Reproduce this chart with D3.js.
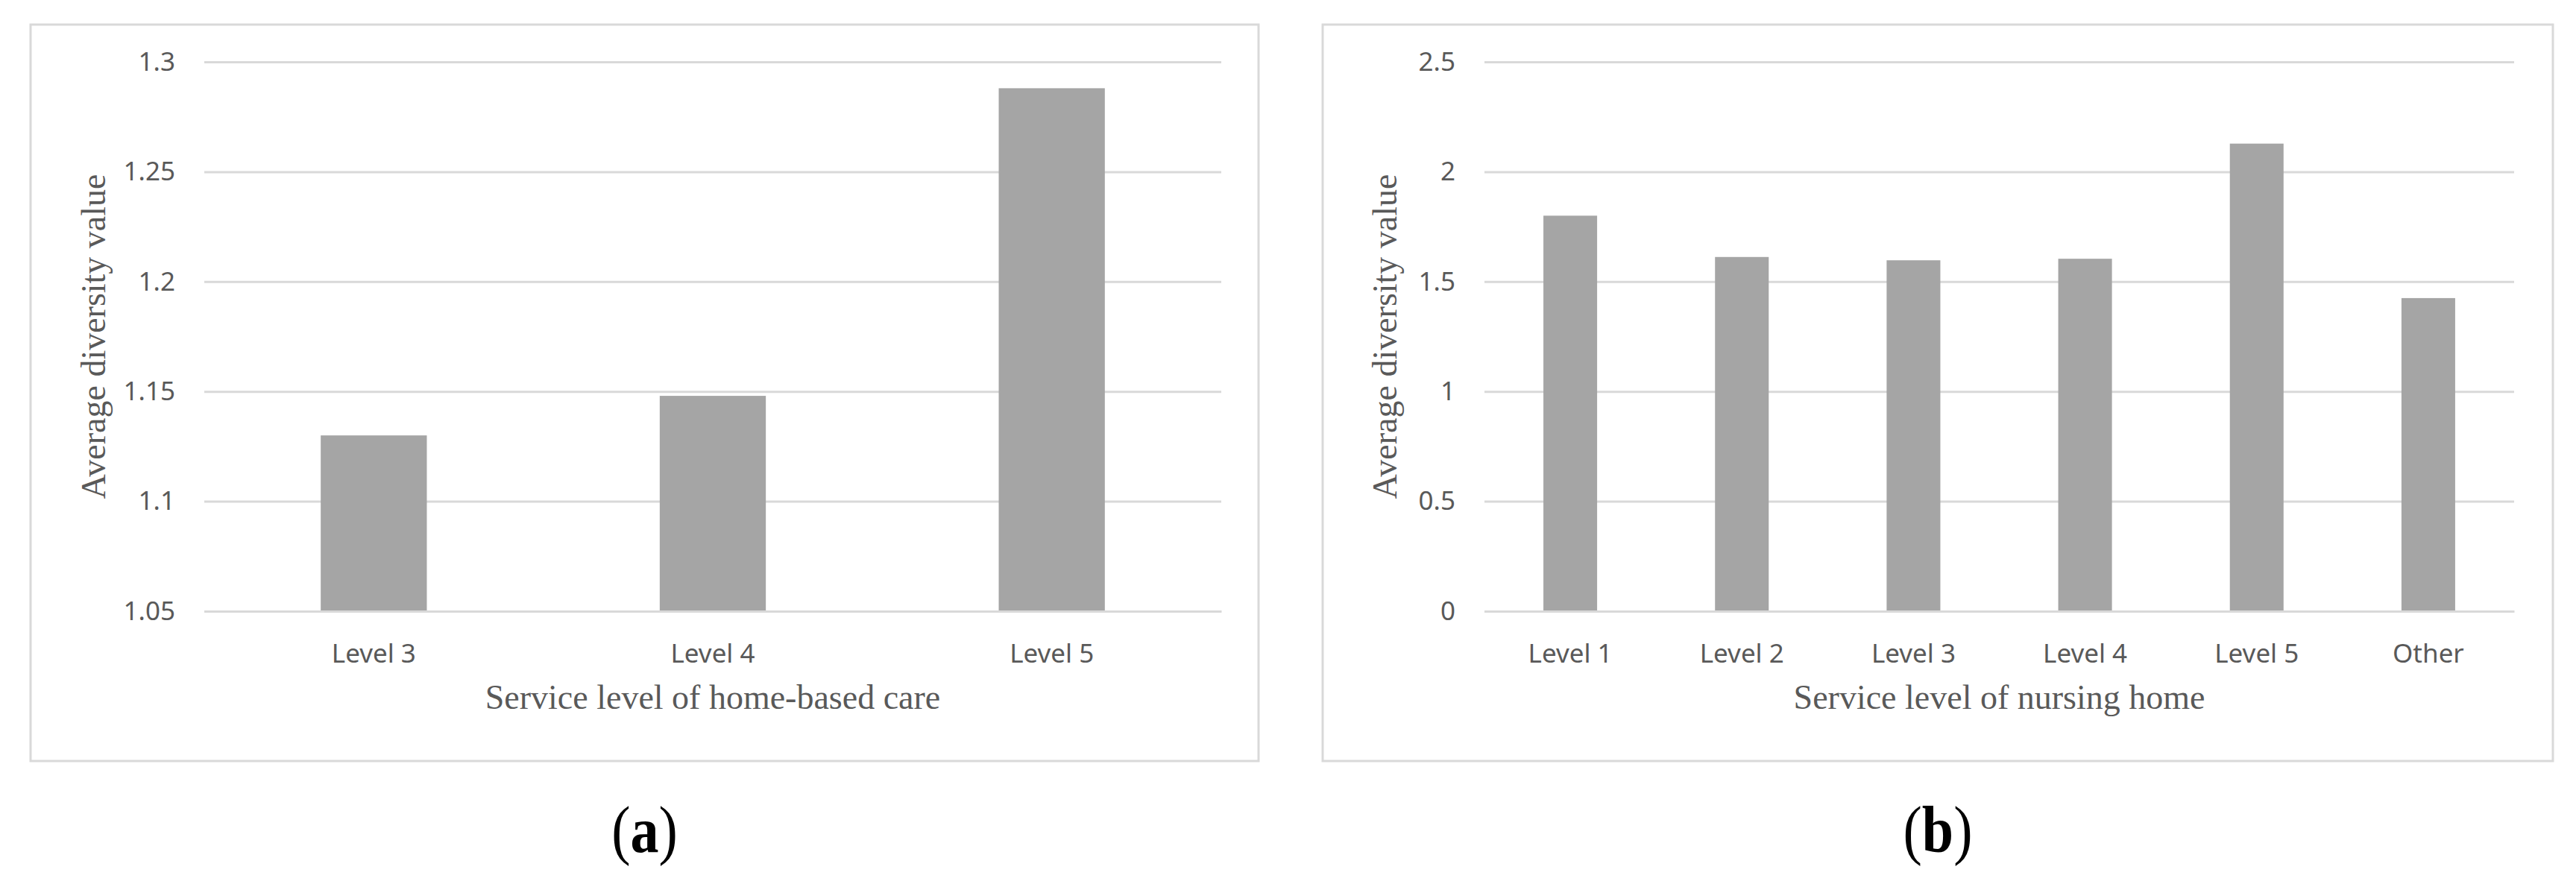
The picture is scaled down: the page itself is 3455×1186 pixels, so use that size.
<!DOCTYPE html>
<html>
<head>
<meta charset="utf-8">
<script src="https://cdn.jsdelivr.net/npm/d3@7"></script>
<style>
  body { margin: 0; background: #fff; }
</style>
</head>
<body>
<div id="chart"></div>
<script>
// data
var homeCategories = ["Level 3", "Level 4", "Level 5"];
var homeValues = [1.130, 1.148, 1.288];
var homeTicks = [1.05, 1.1, 1.15, 1.2, 1.25, 1.3];

var nursingCategories = ["Level 1", "Level 2", "Level 3", "Level 4", "Level 5", "Other"];
var nursingValues = [1.80, 1.612, 1.597, 1.604, 2.128, 1.425];
var nursingTicks = [0, 0.5, 1, 1.5, 2, 2.5];

var W = 3455, H = 1186;
var sansFont = "'Noto Sans', sans-serif";
var serifFont = "'Liberation Serif', 'Times New Roman', serif";

var svg = d3.select("#chart").append("svg")
    .attr("width", W)
    .attr("height", H);

function drawPanel(opt) {
  var g = svg.append("g");

  // outer frame of the excel chart
  g.append("rect")
      .attr("x", opt.box[0])
      .attr("y", opt.box[1])
      .attr("width", opt.box[2] - opt.box[0])
      .attr("height", opt.box[3] - opt.box[1])
      .attr("fill", "#fff")
      .attr("stroke", "#d9d9d9")
      .attr("stroke-width", 3);

  var left = opt.plot[0], right = opt.plot[1], top = opt.plot[2], bottom = opt.plot[3];

  var x = d3.scaleBand()
      .domain(opt.categories)
      .range([left, right])
      .paddingInner(0.687)
      .paddingOuter(0.687 / 2);

  var y = d3.scaleLinear()
      .domain([opt.ticks[0], opt.ticks[opt.ticks.length - 1]])
      .range([bottom, top]);

  // gridlines + tick labels
  var yAxis = g.append("g")
      .attr("transform", "translate(" + left + ",0)")
      .call(d3.axisLeft(y)
        .tickValues(opt.ticks)
        .tickSize(-(right - left))
        .tickPadding(39)
        .tickFormat(function(d) { return String(d); }));
  yAxis.select(".domain").remove();
  yAxis.selectAll(".tick line")
      .attr("stroke", "#d9d9d9")
      .attr("stroke-width", 3);
  yAxis.selectAll(".tick text")
      .attr("fill", "#595959")
      .style("font-family", sansFont)
      .style("font-size", "35px");

  // bars
  g.selectAll(".bar")
      .data(opt.values)
    .enter().append("rect")
      .attr("class", "bar")
      .attr("x", function(d, i) { return x(opt.categories[i]); })
      .attr("y", function(d) { return y(d); })
      .attr("width", x.bandwidth())
      .attr("height", function(d) { return y(opt.ticks[0]) - y(d); })
      .attr("fill", "#a5a5a5");

  // category axis
  var xAxis = g.append("g")
      .attr("transform", "translate(0," + bottom + ")")
      .call(d3.axisBottom(x).tickSize(0).tickPadding(44));
  xAxis.select(".domain")
      .attr("stroke", "#d9d9d9")
      .attr("stroke-width", 3);
  xAxis.selectAll(".tick text")
      .attr("fill", "#595959")
      .style("font-family", sansFont)
      .style("font-size", "35px");

  // axis titles
  g.append("text")
      .attr("transform", "translate(" + opt.yTitleX + "," + ((top + bottom) / 2) + ") rotate(-90)")
      .attr("text-anchor", "middle")
      .attr("fill", "#595959")
      .style("font-family", serifFont)
      .style("font-size", "46px")
      .text("Average diversity value");

  g.append("text")
      .attr("x", (left + right) / 2)
      .attr("y", 951)
      .attr("text-anchor", "middle")
      .attr("fill", "#595959")
      .style("font-family", serifFont)
      .style("font-size", "46px")
      .text(opt.xTitle);

  // panel letter (a bit taller than wide in the original)
  var cx = (opt.box[0] + opt.box[2]) / 2;
  var lab = g.append("text")
      .attr("transform", "translate(" + cx + ",1143) scale(1,1.16)")
      .attr("text-anchor", "middle")
      .attr("fill", "#000")
      .style("font-family", serifFont)
      .style("font-size", "76px");
  lab.append("tspan").text("(");
  lab.append("tspan").attr("font-weight", "bold").text(opt.letter);
  lab.append("tspan").text(")");
}

drawPanel({
  categories: homeCategories,
  values: homeValues,
  ticks: homeTicks,
  box: [41, 33, 1688, 1021],
  plot: [274, 1638, 83, 820],
  yTitleX: 141,
  xTitle: "Service level of home-based care",
  letter: "a"
});

drawPanel({
  categories: nursingCategories,
  values: nursingValues,
  ticks: nursingTicks,
  box: [1774, 33, 3424, 1021],
  plot: [1991, 3372, 83, 820],
  yTitleX: 1873,
  xTitle: "Service level of nursing home",
  letter: "b"
});
</script>
</body>
</html>
